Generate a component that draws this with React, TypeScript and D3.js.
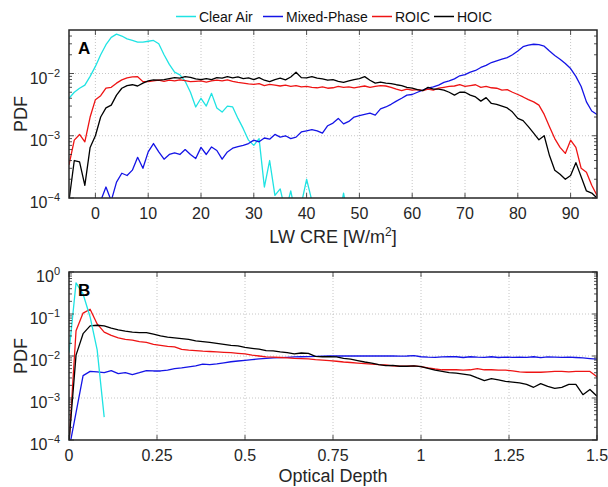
import React from "react";
import * as d3 from "d3";

// legend / series
const seriesNames = ["Clear Air", "Mixed-Phase", "ROIC", "HOIC"];
const seriesColors = ["#1fe3e3", "#1414e6", "#ee1414", "#000000"];

// ---- panel A: PDF vs LW CRE (W/m2), 1 W/m2 bins ----
const lwCre = d3.range(-5, 96);
const clearAirStartA = -5;
const mixedStartA = 1;

const clearAirA = [
  4.0e-3, 5.0e-3, 5.8e-3, 6.5e-3, 9e-3, 1.3e-2, 2.0e-2, 2.9e-2, 3.8e-2, 4.3e-2,
  4.0e-2, 3.6e-2, 3.4e-2, 3.2e-2, 3.2e-2, 3.3e-2, 3.4e-2, 3.0e-2, 2.0e-2, 1.4e-2,
  1.05e-2, 9.5e-3, 7.5e-3, 5.0e-3, 2.9e-3, 4.0e-3, 3.0e-3, 4.8e-3, 2.8e-3, 2.4e-3,
  3.0e-3, 2.9e-3, 1.9e-3, 1.3e-3, 8.5e-4, 7e-4, 9e-4, 1.5e-4, 4e-4, 1.1e-4,
  1.4e-4, 6e-5, 1.3e-4, 5e-5, 8e-5, 2e-4, 9e-5, 5e-5, 4e-5, 4e-5,
  4e-5, 4e-5, 1.2e-4, 4e-5,
];

const mixedA = [
  9e-5, 1.5e-4, 9e-5, 1.8e-4, 2.5e-4, 2.3e-4, 2.8e-4, 4.5e-4, 3.0e-4, 5.5e-4,
  7.5e-4, 5.5e-4, 4.2e-4, 5.0e-4, 5.3e-4, 5.0e-4, 6.0e-4, 5.0e-4, 4.3e-4, 6.5e-4,
  5.0e-4, 6.6e-4, 5.8e-4, 4.2e-4, 5.5e-4, 6.3e-4, 6.7e-4, 7.0e-4, 7.5e-4, 8.5e-4,
  8.0e-4, 9.2e-4, 8.8e-4, 1.05e-3, 9.5e-4, 1.0e-3, 9.0e-4, 9.5e-4, 1.15e-3, 1.2e-3,
  1.25e-3, 1.2e-3, 1.1e-3, 1.45e-3, 1.6e-3, 1.9e-3, 1.55e-3, 1.7e-3, 2.0e-3, 2.1e-3,
  2.2e-3, 2.3e-3, 2.15e-3, 2.7e-3, 2.9e-3, 3.2e-3, 3.6e-3, 4.0e-3, 4.5e-3, 4.6e-3,
  5.0e-3, 5.4e-3, 5.8e-3, 6.1e-3, 6.5e-3, 7.2e-3, 7.6e-3, 8.2e-3, 9.2e-3, 9.6e-3,
  1.05e-2, 1.12e-2, 1.25e-2, 1.35e-2, 1.5e-2, 1.6e-2, 1.7e-2, 1.8e-2, 2.0e-2, 2.3e-2,
  2.7e-2, 2.85e-2, 2.95e-2, 2.9e-2, 2.75e-2, 2.3e-2, 1.95e-2, 1.7e-2, 1.45e-2, 1.2e-2,
  9.0e-3, 6.2e-3, 3.5e-3, 2.5e-3, 2.2e-3,
];

const roicA = [
  3.4e-4, 8.5e-4, 1.05e-3, 8e-4, 2.0e-3, 3.8e-3, 4.4e-3, 5.8e-3, 6.0e-3, 7.0e-3,
  7.9e-3, 8.5e-3, 8.8e-3, 8.9e-3, 7.4e-3, 7.4e-3, 7.6e-3, 7.8e-3, 7.5e-3, 7.8e-3,
  7.6e-3, 7.9e-3, 7.7e-3, 7.4e-3, 7.5e-3, 7.6e-3, 7.3e-3, 7.6e-3, 7.8e-3, 7.6e-3,
  7.9e-3, 7.5e-3, 7.2e-3, 7.0e-3, 6.8e-3, 6.7e-3, 6.9e-3, 6.4e-3, 6.7e-3, 6.5e-3,
  6.3e-3, 6.5e-3, 6.2e-3, 6.4e-3, 6.1e-3, 6.2e-3, 6.0e-3, 5.9e-3, 6.1e-3, 5.8e-3,
  5.9e-3, 6.2e-3, 6.0e-3, 6.1e-3, 5.9e-3, 6.1e-3, 6.3e-3, 6.0e-3, 6.2e-3, 6.4e-3,
  6.3e-3, 6.0e-3, 5.6e-3, 5.3e-3, 5.6e-3, 5.4e-3, 5.5e-3, 5.3e-3, 5.6e-3, 5.4e-3,
  5.8e-3, 6.0e-3, 6.2e-3, 6.3e-3, 6.6e-3, 6.2e-3, 6.4e-3, 6.6e-3, 6.0e-3, 6.2e-3,
  5.9e-3, 5.8e-3, 5.4e-3, 5.5e-3, 5.0e-3, 4.6e-3, 4.2e-3, 3.8e-3, 3.5e-3, 3.1e-3,
  2.2e-3, 1.4e-3, 9e-4, 6.5e-4, 5.2e-4, 8.5e-4, 6.5e-4, 3e-4, 2.6e-4, 1.6e-4,
  1.1e-4,
];

const hoicA = [
  9e-5, 4e-4, 3.8e-4, 1.6e-4, 6.5e-4, 1.0e-3, 2.0e-3, 2.8e-3, 3.1e-3, 4.5e-3,
  5.8e-3, 6.4e-3, 6.6e-3, 6.3e-3, 7.0e-3, 7.6e-3, 7.9e-3, 7.8e-3, 8.0e-3, 8.3e-3,
  8.6e-3, 8.4e-3, 8.9e-3, 8.7e-3, 8.2e-3, 8.0e-3, 8.3e-3, 8.0e-3, 8.6e-3, 8.4e-3,
  8.9e-3, 8.5e-3, 8.8e-3, 8.3e-3, 8.5e-3, 8.0e-3, 8.6e-3, 7.8e-3, 7.4e-3, 8.0e-3,
  8.4e-3, 7.9e-3, 8.8e-3, 1.05e-2, 8.6e-3, 8.5e-3, 8.9e-3, 8.4e-3, 8.2e-3, 7.8e-3,
  8.0e-3, 7.5e-3, 7.2e-3, 7.6e-3, 8.0e-3, 8.3e-3, 8.9e-3, 7.8e-3, 7.0e-3, 7.3e-3,
  7.0e-3, 6.9e-3, 6.6e-3, 6.4e-3, 6.0e-3, 5.8e-3, 5.5e-3, 5.3e-3, 6.0e-3, 5.6e-3,
  5.6e-3, 5.4e-3, 5.0e-3, 4.5e-3, 5.0e-3, 5.0e-3, 4.5e-3, 4.2e-3, 3.6e-3, 4.1e-3,
  3.3e-3, 3.2e-3, 3.0e-3, 2.8e-3, 2.4e-3, 1.9e-3, 1.75e-3, 1.4e-3, 1.1e-3, 8.6e-4,
  1.0e-3, 4.8e-4, 2.8e-4, 2.4e-4, 2.0e-4, 2.3e-4, 3.7e-4, 2.2e-4, 1.3e-4, 1.2e-4,
  1.0e-4,
];

// ---- panel B: PDF vs optical depth, 0.02 bins ----
const tauBins = d3.range(0, 76).map((i) => i * 0.02);

const clearAirB = [1.2e-2, 0.55, 0.3, 0.085, 0.014, 3.5e-4];

const mixedB = [
  6e-5, 4.5e-4, 3.4e-3, 4.3e-3, 4.2e-3, 4.0e-3, 4.5e-3, 3.8e-3, 4.0e-3, 3.6e-3,
  4.0e-3, 4.5e-3, 4.4e-3, 4.4e-3, 4.6e-3, 5.0e-3, 5.2e-3, 5.5e-3, 5.8e-3, 6.4e-3,
  6.2e-3, 6.5e-3, 6.9e-3, 7.3e-3, 7.6e-3, 7.9e-3, 8.2e-3, 8.5e-3, 8.8e-3, 9.0e-3,
  9.1e-3, 9.3e-3, 9.5e-3, 9.6e-3, 9.7e-3, 9.8e-3, 9.9e-3, 1.0e-2, 1.0e-2, 1.0e-2,
  1.01e-2, 1.0e-2, 1.01e-2, 1.0e-2, 1.0e-2, 1.01e-2, 1.0e-2, 9.9e-3, 1.0e-2, 1.02e-2,
  9.6e-3, 9.4e-3, 9.3e-3, 9.5e-3, 9.6e-3, 9.6e-3, 9.2e-3, 9.6e-3, 9.4e-3, 9.3e-3,
  9.6e-3, 9.2e-3, 9.4e-3, 9.3e-3, 9.4e-3, 9.3e-3, 9.6e-3, 9.1e-3, 9.5e-3, 9.4e-3,
  9.3e-3, 9.4e-3, 9.2e-3, 9.0e-3, 8.7e-3, 8.4e-3,
];

const roicB = [
  8e-5, 0.04, 0.105, 0.13, 0.058, 0.037, 0.031, 0.027, 0.025, 0.024,
  0.022, 0.021, 0.019, 0.018, 0.017, 0.0165, 0.0143, 0.0138, 0.0135, 0.013,
  0.0128, 0.0125, 0.0122, 0.012, 0.0116, 0.0112, 0.0105, 0.01, 0.0095, 0.0094,
  0.0092, 0.009, 0.0088, 0.0087, 0.0085, 0.0082, 0.008, 0.0078, 0.0075, 0.0072,
  0.007, 0.0068, 0.0066, 0.0064, 0.0062, 0.0061, 0.0058, 0.0057, 0.0057, 0.0058,
  0.0056, 0.0052, 0.0049, 0.0047, 0.0047, 0.0047, 0.0046, 0.0047, 0.005, 0.0047,
  0.0047, 0.0046, 0.0046, 0.0044, 0.0042, 0.0041, 0.0041, 0.0041, 0.0042, 0.0043,
  0.0043, 0.0042, 0.0043, 0.0043, 0.0043, 0.0032,
];

const hoicB = [
  9e-5, 0.0105, 0.034, 0.052, 0.054, 0.052, 0.046, 0.042, 0.039, 0.037,
  0.036, 0.036, 0.033, 0.03, 0.028, 0.027, 0.026, 0.025, 0.023, 0.022,
  0.021, 0.02, 0.019, 0.018, 0.0175, 0.016, 0.0152, 0.0145, 0.0135, 0.0132,
  0.0125, 0.012, 0.0112, 0.0118, 0.0115, 0.0098, 0.0096, 0.0097, 0.0095, 0.0088,
  0.0084, 0.0078, 0.0072, 0.0068, 0.0062, 0.0059, 0.006, 0.0057, 0.0057, 0.0058,
  0.0056, 0.0051, 0.0046, 0.0043, 0.004, 0.0039, 0.0037, 0.0035, 0.003, 0.0026,
  0.0029, 0.0027, 0.0025, 0.0024, 0.0023, 0.0021, 0.0018, 0.0022, 0.0019, 0.0017,
  0.0018, 0.0021, 0.0021, 0.0012, 0.0016, 0.0011,
];

const xTicksA = [0, 10, 20, 30, 40, 50, 60, 70, 80, 90];
const xTicksB = [0, 0.25, 0.5, 0.75, 1, 1.25, 1.5];

const W = 608;
const H = 487;
const FONT = "'Liberation Sans', Arial, Helvetica, sans-serif";
const AXIS_COLOR = "#262626";

type Pt = [number, number];
type Series = { pts: Pt[]; color: string };

function toPts(xs: number[], ys: number[]): Pt[] {
  return ys.map((v, i) => [xs[i], v] as Pt);
}

function Panel(props: {
  id: string;
  top: number;
  bottom: number;
  left: number;
  right: number;
  xDomain: [number, number];
  yDomain: [number, number];
  xTicks: number[];
  xLabel: React.ReactNode;
  xLabelDy: number;
  tag: string;
  series: Series[];
}) {
  const { id, top, bottom, left, right, xDomain, yDomain, xTicks, tag, series } = props;
  const x = d3.scaleLinear().domain(xDomain).range([left, right]);
  const y = d3.scaleLog().domain(yDomain).range([bottom, top]);

  const loExp = Math.round(Math.log10(yDomain[0]));
  const hiExp = Math.floor(Math.log10(yDomain[1]) + 1e-9);
  const decades = d3.range(loExp, hiExp + 1);
  const minors: number[] = [];
  decades.forEach((e) => {
    for (let k = 2; k <= 9; k++) {
      const v = k * Math.pow(10, e);
      if (v < yDomain[1]) minors.push(v);
    }
  });

  const line = d3
    .line<Pt>()
    .x((d) => x(d[0]))
    .y((d) => y(Math.max(d[1], 1e-6)));

  return (
    <g>
      <defs>
        <clipPath id={"clip-" + id}>
          <rect x={left} y={top} width={right - left} height={bottom - top} />
        </clipPath>
      </defs>
      <rect x={left} y={top} width={right - left} height={bottom - top} fill="#fff" />
      {/* grid */}
      <g stroke="#b8b8b8" strokeWidth={0.8} strokeDasharray="1,2">
        {xTicks
          .filter((t) => x(t) > left + 1 && x(t) < right - 1)
          .map((t) => (
            <line key={"gx" + t} x1={x(t)} x2={x(t)} y1={top} y2={bottom} />
          ))}
        {decades
          .filter((e) => y(Math.pow(10, e)) > top + 1 && y(Math.pow(10, e)) < bottom - 1)
          .map((e) => (
            <line key={"gy" + e} x1={left} x2={right} y1={y(Math.pow(10, e))} y2={y(Math.pow(10, e))} />
          ))}
      </g>
      {/* data */}
      <g clipPath={`url(#clip-${id})`} fill="none" strokeWidth={1.3} strokeLinejoin="round">
        {series.map((s, i) => (
          <path key={i} d={line(s.pts) || ""} stroke={s.color} />
        ))}
      </g>
      {/* ticks */}
      <g stroke={AXIS_COLOR} strokeWidth={0.8}>
        {xTicks.map((t) => (
          <g key={"tx" + t}>
            <line x1={x(t)} x2={x(t)} y1={bottom} y2={bottom - 5} />
            <line x1={x(t)} x2={x(t)} y1={top} y2={top + 5} />
          </g>
        ))}
        {decades.map((e) => (
          <g key={"ty" + e}>
            <line x1={left} x2={left + 5} y1={y(Math.pow(10, e))} y2={y(Math.pow(10, e))} />
            <line x1={right} x2={right - 5} y1={y(Math.pow(10, e))} y2={y(Math.pow(10, e))} />
          </g>
        ))}
        {minors.map((v, i) => (
          <g key={"mn" + i}>
            <line x1={left} x2={left + 3} y1={y(v)} y2={y(v)} />
            <line x1={right} x2={right - 3} y1={y(v)} y2={y(v)} />
          </g>
        ))}
      </g>
      <rect
        x={left}
        y={top}
        width={right - left}
        height={bottom - top}
        fill="none"
        stroke={AXIS_COLOR}
        strokeWidth={1.5}
      />
      {/* tick labels */}
      <g fontFamily={FONT} fontSize={16} fill={AXIS_COLOR}>
        {xTicks.map((t) => (
          <text key={"lx" + t} x={x(t)} y={bottom + 21} textAnchor="middle">
            {String(t)}
          </text>
        ))}
        {decades.map((e) => (
          <text key={"ly" + e} x={left - 9} y={y(Math.pow(10, e)) + 10} textAnchor="end">
            10
            <tspan fontSize={11} dy={-7}>
              {String(e).replace("-", "\u2212")}
            </tspan>
          </text>
        ))}
      </g>
      <text
        fontFamily={FONT}
        fontSize={18}
        fill={AXIS_COLOR}
        transform={`translate(27,${(top + bottom) / 2}) rotate(-90)`}
        textAnchor="middle"
      >
        PDF
      </text>
      <text
        fontFamily={FONT}
        fontSize={18}
        fill={AXIS_COLOR}
        x={(left + right) / 2}
        y={bottom + props.xLabelDy}
        textAnchor="middle"
      >
        {props.xLabel}
      </text>
      <text fontFamily={FONT} fontSize={17} fontWeight="bold" fill="#000" x={left + 9} y={top + 24}>
        {tag}
      </text>
    </g>
  );
}

const legendItemX = [176, 263, 372, 434];

export default function App() {
  const xsClearA = clearAirA.map((_, i) => clearAirStartA + i);
  const xsMixedA = mixedA.map((_, i) => mixedStartA + i);

  const seriesA: Series[] = [
    { pts: toPts(xsClearA, clearAirA), color: seriesColors[0] },
    { pts: toPts(xsMixedA, mixedA), color: seriesColors[1] },
    { pts: toPts(lwCre, roicA), color: seriesColors[2] },
    { pts: toPts(lwCre, hoicA), color: seriesColors[3] },
  ];
  const seriesB: Series[] = [
    { pts: toPts(tauBins, mixedB), color: seriesColors[1] },
    { pts: toPts(tauBins, roicB), color: seriesColors[2] },
    { pts: toPts(tauBins, hoicB), color: seriesColors[3] },
    { pts: toPts(tauBins, clearAirB), color: seriesColors[0] },
  ];

  return (
    <svg width={W} height={H} style={{ position: "absolute", left: 0, top: 0, background: "#fff" }}>
      <rect width={W} height={H} fill="#fff" />
      <g fontFamily={FONT} fontSize={14} fill="#111">
        {seriesNames.map((n, i) => (
          <g key={n}>
            <line
              x1={legendItemX[i]}
              x2={legendItemX[i] + 20}
              y1={16.5}
              y2={16.5}
              stroke={seriesColors[i]}
              strokeWidth={1.5}
            />
            <text x={legendItemX[i] + 23} y={21.5}>
              {n}
            </text>
          </g>
        ))}
      </g>
      <Panel
        id="a"
        top={30}
        bottom={198}
        left={69}
        right={597}
        xDomain={[-5, 95]}
        yDomain={[1e-4, 0.05]}
        xTicks={xTicksA}
        xLabel={
          <>
            LW CRE [W/m
            <tspan fontSize={12} dy={-7}>
              2
            </tspan>
            <tspan dy={7}>]</tspan>
          </>
        }
        xLabelDy={45}
        tag="A"
        series={seriesA}
      />
      <Panel
        id="b"
        top={272}
        bottom={440}
        left={69}
        right={597}
        xDomain={[0, 1.5]}
        yDomain={[1e-4, 1]}
        xTicks={xTicksB}
        xLabel="Optical Depth"
        xLabelDy={42}
        tag="B"
        series={seriesB}
      />
    </svg>
  );
}
